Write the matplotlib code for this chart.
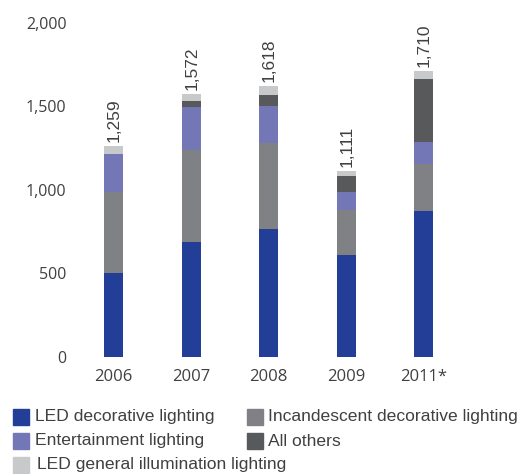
import matplotlib
matplotlib.use("Agg")
import matplotlib.pyplot as plt
from matplotlib.patches import Rectangle
import numpy as np

# values
years = ["2006", "2007", "2008", "2009", "2011*"]
totals = [1259, 1572, 1618, 1111, 1710]
led_deco = [501, 687, 764, 609, 872]
incand_deco = [485, 551, 513, 269, 282]
entertainment = [228, 257, 224, 108, 131]
all_others = [0, 36, 66, 96, 378]
led_general = [45, 41, 51, 29, 47]

names = ["LED decorative lighting", "Incandescent decorative lighting",
         "Entertainment lighting", "All others",
         "LED general illumination lighting"]
values = [led_deco, incand_deco, entertainment, all_others, led_general]
colors = ["#233e96", "#808184", "#7477b6", "#58595b", "#c8c9cb"]

txt_color = "#404040"
plt.rcParams['font.family'] = ['Open Sans', 'DejaVu Sans']

fig = plt.figure(figsize=(5.26, 4.74), dpi=100)
ax = fig.add_axes([75 / 526, 1 - 356.7 / 474, 387.5 / 526, 334 / 474])

x = np.arange(len(years))
bottom = np.zeros(len(years))
for name, vals, col in zip(names, values, colors):
    ax.bar(x, vals, width=0.245, bottom=bottom, color=col, label=name)
    bottom = bottom + np.array(vals)

# totals on top of the bars, rotated
for xi, t in zip(x, totals):
    ax.text(xi + 0.01, t + 25, f"{t:,}", rotation=90, ha="center", va="bottom",
            fontsize=12.5, family="Liberation Sans", color=txt_color)

ax.set_xlim(-0.5, 4.5)
ax.set_ylim(0, 2000)
ax.set_yticks([0, 500, 1000, 1500, 2000])
ax.yaxis.set_major_formatter(matplotlib.ticker.FuncFormatter(lambda v, p: f"{int(v):,}"))
ax.set_xticks(x)
ax.set_xticklabels(years)
ax.tick_params(axis="both", length=0, colors=txt_color)
ax.tick_params(axis="y", pad=6, labelsize=11.5)
ax.tick_params(axis="x", pad=9, labelsize=12)
for s in ax.spines.values():
    s.set_visible(False)

# legend laid out by hand (third row overlaps the second column)
W, H = 526, 474
legend_pos = [  # (square x, text x, row centre y) in pixels
    (13, 35, 417),
    (247, 268, 417),
    (13, 35, 441),
    (247, 268, 441),
    (13, 37, 465),
]
legend_order = [0, 1, 2, 3, 4]
for i, (sx, tx, cy) in zip(legend_order, legend_pos):
    fig.patches.append(Rectangle((sx / W, 1 - (cy + 8) / H), 16 / W, 16 / H,
                                 transform=fig.transFigure, color=colors[i]))
    fig.text(tx / W, 1 - cy / H, names[i], ha="left", va="center",
             fontsize=12.6, family="Liberation Sans", color=txt_color)

fig.savefig("out.png", dpi=100)
